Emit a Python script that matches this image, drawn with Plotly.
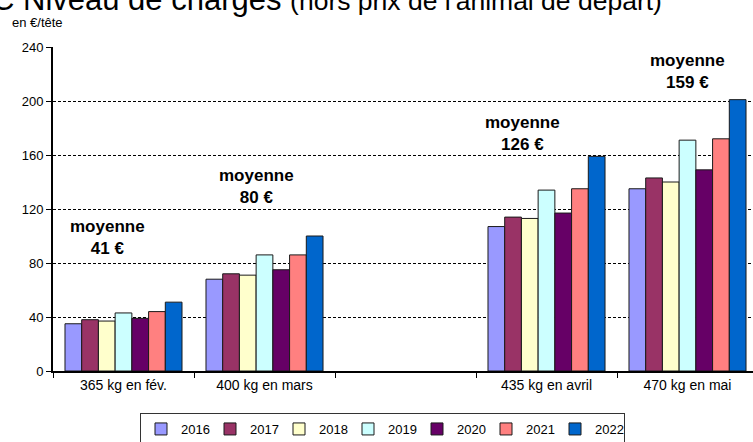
import plotly.graph_objects as go

categories = ["365 kg en fév.", "400 kg en mars", " ", "435 kg en avril", "470 kg en mai"]
years = ["2016", "2017", "2018", "2019", "2020", "2021", "2022"]
# values per year, one per category (None for the blank slot)
values = {
    "2016": [35, 68, None, 107, 135],
    "2017": [38, 72, None, 114, 143],
    "2018": [37, 71, None, 113, 140],
    "2019": [43, 86, None, 134, 171],
    "2020": [39, 75, None, 117, 149],
    "2021": [44, 86, None, 135, 172],
    "2022": [51, 100, None, 159, 201],
}
colors = ["#9999FF", "#993366", "#FFFFCC", "#CCFFFF", "#660066", "#FF8080", "#0066CC"]
y_ticks = [0, 40, 80, 120, 160, 200, 240]

FONT = "Liberation Sans, Arial, sans-serif"

fig = go.Figure()
for yr, col in zip(years, colors):
    fig.add_trace(go.Bar(
        x=categories, y=values[yr], name=yr,
        marker=dict(color=col, line=dict(color="#1a1a1a", width=1)),
    ))

# averages (computed from data)
means = []
for i in range(len(categories)):
    vals = [values[yr][i] for yr in years if values[yr][i] is not None]
    means.append(round(sum(vals) / len(vals)) if vals else None)

label_pos = {0: (-0.11, 99), 1: (-0.06, 136.5), 3: (-0.17, 176), 4: (0.0, 222)}
annotations = []
for i, (dx, yv) in label_pos.items():
    annotations.append(dict(
        x=i + dx, y=yv, xref="x", yref="y", showarrow=False,
        text=f"<b>moyenne<br>{means[i]} €</b>",
        font=dict(family=FONT, size=17, color="black"),
        xanchor="center", yanchor="middle",
    ))

W, H = 753, 442
L, T, B = 53, 47, 71
PW = W - L
PH = H - T - B

def px_x(px):
    return (px - L) / PW

def px_y(py):
    return (H - B - py) / PH

annotations.append(dict(
    x=px_x(10), y=px_y(23), xref="paper", yref="paper", showarrow=False,
    text="en €/tête", font=dict(family=FONT, size=13, color="black"),
    xanchor="left", yanchor="middle",
))
annotations.append(dict(
    x=px_x(-10), y=px_y(-1), xref="paper", yref="paper", showarrow=False,
    text="C Niveau de charges <span style=\"font-size:26.5px\">(hors prix de l'animal de départ)</span>",
    font=dict(family=FONT, size=31, color="black"),
    xanchor="left", yanchor="middle",
))

cat_w = PW / 141.0
fig.update_layout(
    width=W, height=H,
    margin=dict(l=L, r=0, t=T, b=B, pad=0, autoexpand=False),
    paper_bgcolor="white", plot_bgcolor="white",
    barmode="group", bargap=0.17, bargroupgap=0,
    font=dict(family=FONT, size=13, color="black"),
    showlegend=True,
    legend=dict(
        orientation="h", x=px_x(140), y=px_y(413), xanchor="left", yanchor="top",
        bordercolor="#333333", borderwidth=1, entrywidth=24,
        font=dict(family=FONT, size=13, color="black"),
        itemclick=False,
    ),
    annotations=annotations,
)
fig.update_xaxes(
    type="category", categoryorder="array", categoryarray=categories,
    range=[-0.5, -0.5 + cat_w],
    showline=True, linecolor="black", linewidth=2,
    ticks="outside", tickson="boundaries", ticklen=5, tickcolor="black", tickwidth=1,
    tickfont=dict(family=FONT, size=14, color="black"),
    showgrid=False, zeroline=False, fixedrange=True,
)
fig.update_yaxes(
    range=[0, 240], tickvals=y_ticks,
    showline=True, linecolor="black", linewidth=2,
    ticks="outside", ticklen=5, tickcolor="black", tickwidth=1,
    tickfont=dict(family=FONT, size=13, color="black"),
    showgrid=True, gridcolor="black", gridwidth=1, griddash="3px,2px",
    zeroline=False, fixedrange=True,
)

fig.write_html(
    "out.html",
    config={"displayModeBar": False},
    post_script="document.body.style.margin='0';document.body.style.overflow='hidden';",
)
